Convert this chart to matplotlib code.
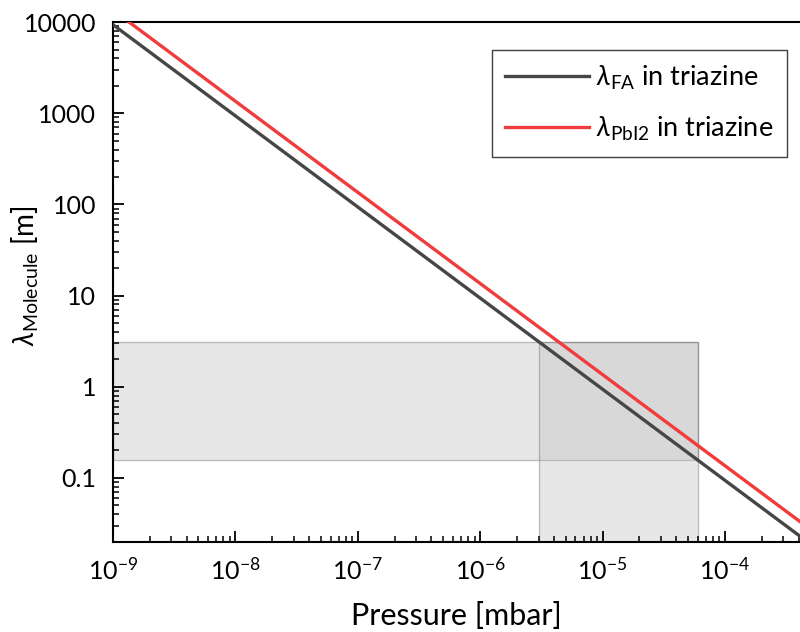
import numpy as np
import matplotlib
matplotlib.use("Agg")
import matplotlib.pyplot as plt
from matplotlib.patches import Rectangle

plt.rcParams['font.family'] = ['Lato', 'DejaVu Sans']
plt.rcParams['mathtext.fontset'] = 'custom'
plt.rcParams['mathtext.rm'] = 'Lato'
plt.rcParams['mathtext.it'] = 'Lato:italic'
plt.rcParams['mathtext.bf'] = 'Lato:bold'

# Mean free path lambda = C / p  (p in mbar, lambda in m)
pressure = np.logspace(-9, np.log10(4.1e-4), 200)
c_fa = 9.4e-6
c_pbi2 = 1.36e-5
lambda_fa = c_fa / pressure
lambda_pbi2 = c_pbi2 / pressure

# Process window
p_window = [3e-6, 6e-5]
lam_window = [c_fa / 6e-5, c_fa / 3e-6]

labels = [r'$\lambda_{\mathrm{FA}}$ in triazine', r'$\lambda_{\mathrm{PbI2}}$ in triazine']

fig = plt.figure(figsize=(8, 6.32), dpi=100)
ax = fig.add_axes([0.141, 0.143, 0.859, 0.822])
ax.set_xscale('log')
ax.set_yscale('log')
ax.set_xlim(1e-9, 4.1e-4)
ax.set_ylim(0.02, 10000)

# Shaded windows
ax.add_patch(Rectangle((1e-9, lam_window[0]), p_window[1] - 1e-9, lam_window[1] - lam_window[0],
                       facecolor='#bdbdbd', alpha=0.35, edgecolor='#555555', lw=1, zorder=1))
ax.add_patch(Rectangle((p_window[0], 0.02), p_window[1] - p_window[0], lam_window[1] - 0.02,
                       facecolor='#bdbdbd', alpha=0.35, edgecolor='#555555', lw=1, zorder=1))

ax.plot(pressure, lambda_fa, color='#464646', lw=2.4, label=labels[0], zorder=3)
ax.plot(pressure, lambda_pbi2, color='#f03c3c', lw=2.4, label=labels[1], zorder=3)

ax.spines['right'].set_visible(False)
for s in ['left', 'bottom', 'top']:
    ax.spines[s].set_linewidth(1.5)
ax.tick_params(which='major', direction='in', length=8, width=1.3, labelsize=18)
ax.tick_params(axis='x', which='major', pad=11)
ax.tick_params(axis='y', which='major', pad=12)
ax.tick_params(which='minor', direction='in', length=4, width=1.1)
ax.tick_params(top=False, right=False, which='both')
ax.set_yticks([0.1, 1, 10, 100, 1000, 10000])
ax.set_yticklabels(['0.1', '1', '10', '100', '1000', '10000'])

ax.set_xlabel('Pressure [mbar]', fontsize=22)
ax.xaxis.set_label_coords(0.5, -0.116)
ax.xaxis.label.set_va('top')
ax.set_ylabel(r'$\lambda_{\mathrm{Molecule}}$ [m]', fontsize=20)
ax.yaxis.set_label_coords(-0.104, 0.511)

leg = ax.legend(loc='upper right', bbox_to_anchor=(787 / 800, 1 - 50 / 632),
                bbox_transform=fig.transFigure, borderaxespad=0, fontsize=19.5,
                handlelength=3.1, handletextpad=0.25, fancybox=False, framealpha=1,
                edgecolor='#404040', borderpad=0.5, labelspacing=0.85)
leg.get_frame().set_linewidth(1.0)

fig.savefig('out.png', dpi=100)
